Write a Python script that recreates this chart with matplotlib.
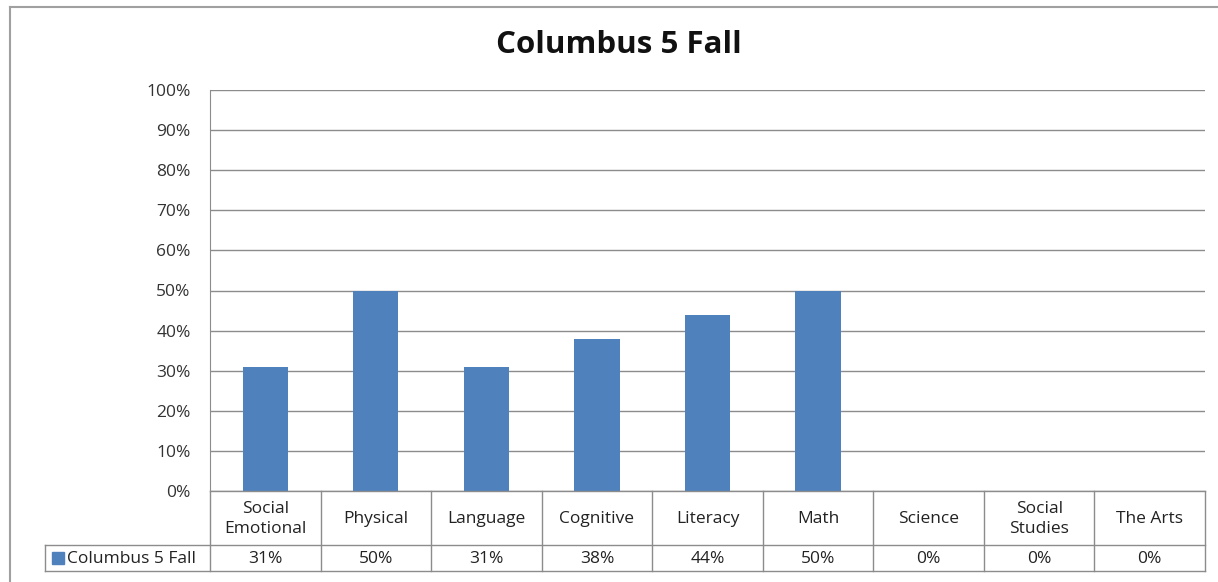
import matplotlib.pyplot as plt
from matplotlib.patches import Rectangle
from matplotlib.lines import Line2D

# data
categories = ['Social\nEmotional', 'Physical', 'Language', 'Cognitive', 'Literacy',
              'Math', 'Science', 'Social\nStudies', 'The Arts']
values = [31, 50, 31, 38, 44, 50, 0, 0, 0]
series_name = 'Columbus 5 Fall'
yticks = list(range(0, 101, 10))

plt.rcParams['font.family'] = ['Open Sans', 'DejaVu Sans']

W, H = 1218, 582
fig = plt.figure(figsize=(W / 100, H / 100), dpi=100)

# plot area in pixel coords
px_left, px_right, px_top, px_bottom = 210, 1205, 90, 491
ax = fig.add_axes([px_left / W, (H - px_bottom) / H,
                   (px_right - px_left) / W, (px_bottom - px_top) / H])

bar_col = '#4F81BD'
grid_col = '#8C8C8C'
fs = 12.5
x = list(range(len(categories)))
ax.bar(x, values, width=0.41, color=bar_col, zorder=3)
ax.set_xlim(-0.5, len(categories) - 0.5)
ax.set_ylim(0, 100)
ax.set_yticks(yticks)
ax.set_yticklabels([f'{v}%' for v in yticks], fontsize=fs, color='#333333')
ax.set_xticks([])
ax.tick_params(axis='y', length=0, pad=14)
ax.grid(axis='y', color=grid_col, linewidth=1, zorder=0)
for s in ['top', 'right', 'bottom']:
    ax.spines[s].set_visible(False)
ax.spines['left'].set_color(grid_col)

fig.text(619 / W, 1 - 45 / H, series_name, ha='center', va='center',
         fontsize=22.5, fontweight='bold', color='#111111')


# data table below the plot
def fy(py):
    return 1 - py / H


def fx(px):
    return px / W


def line(x0, x1, y0, y1):
    fig.add_artist(Line2D([fx(x0), fx(x1)], [fy(y0), fy(y1)], color=grid_col, linewidth=1))


row1, row2, row3 = 491, 545, 571
tab_left = 45
col_w = (px_right - px_left) / len(categories)
line(px_left, px_right, row1, row1)
line(tab_left, px_right, row2, row2)
line(tab_left, px_right, row3, row3)
line(tab_left, tab_left, row2, row3)
for i in range(len(categories) + 1):
    xx = px_left + i * col_w
    line(xx, xx, row1, row3)

for i, (c, v) in enumerate(zip(categories, values)):
    cx = px_left + (i + 0.5) * col_w
    fig.text(fx(cx), fy((row1 + row2) / 2 + 1), c, ha='center', va='center',
             fontsize=fs, color='#222222', linespacing=1.3)
    fig.text(fx(cx), fy((row2 + row3) / 2 + 1), f'{v}%', ha='center', va='center',
             fontsize=fs, color='#222222')

fig.add_artist(Rectangle((fx(52), fy(564)), 12 / W, 12 / H, color=bar_col))
fig.text(fx(67), fy((row2 + row3) / 2 + 1), series_name, ha='left', va='center',
         fontsize=fs, color='#222222')

# outer chart border
fig.add_artist(Line2D([fx(10), fx(W)], [fy(7), fy(7)], color='#A0A0A0', linewidth=1.5))
fig.add_artist(Line2D([fx(10), fx(10)], [fy(7), fy(H)], color='#A0A0A0', linewidth=1.5))

fig.savefig('out.png', dpi=100)
